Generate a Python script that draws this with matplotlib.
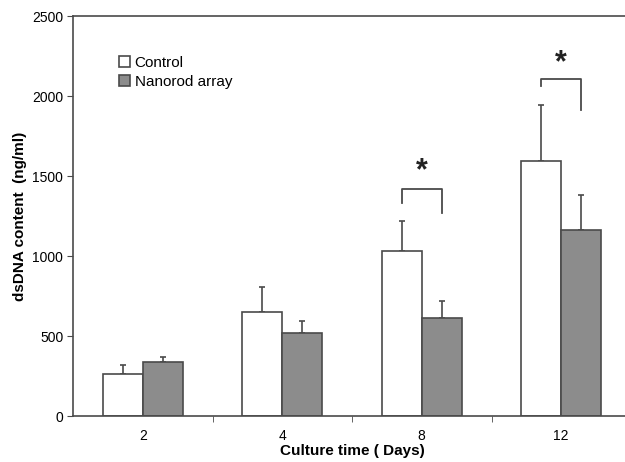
import matplotlib
matplotlib.use("Agg")
import matplotlib.pyplot as plt
import numpy as np

plt.rcParams['font.family'] = ['Liberation Sans', 'DejaVu Sans']

days = ["2", "4", "8", "12"]
control = [262, 650, 1031, 1594]
control_err = [57, 156, 188, 350]
nanorod = [337, 519, 612, 1162]
nanorod_err = [32, 75, 107, 219]

# significance brackets: (group index, top, left end, right end)
brackets = [(2, 1419, 1331, 1269), (3, 2106, 2063, 1912)]
star_y = [1530, 2205]

line_col = "#4a4a4a"

fig = plt.figure(figsize=(6.25, 4.62), dpi=100)
ax = fig.add_axes([73/625, 1 - 416/462, (631 - 73)/625, (416 - 16)/462])

x = np.arange(len(days))
w = 0.287
ax.bar(x - w/2, control, width=w, color="white", edgecolor=line_col, linewidth=1.2, label="Control", zorder=2)
ax.bar(x + w/2, nanorod, width=w, color="#8c8c8c", edgecolor=line_col, linewidth=1.2, label="Nanorod array", zorder=2)
ax.errorbar(x - w/2, control, yerr=[np.zeros(4), control_err], fmt="none", ecolor=line_col,
            elinewidth=1.2, capsize=2, capthick=1.2, zorder=1)
ax.errorbar(x + w/2, nanorod, yerr=[np.zeros(4), nanorod_err], fmt="none", ecolor=line_col,
            elinewidth=1.2, capsize=2, capthick=1.2, zorder=1)

for (g, top, lb, rb), sy in zip(brackets, star_y):
    ax.plot([g - w/2, g - w/2, g + w/2, g + w/2], [lb, top, top, rb], color=line_col, lw=1.3)
    ax.text(g, sy, "*", ha="center", va="center", fontsize=22, fontweight="bold", color="#222222")

ax.set_xlim(-0.5, 3.5)
ax.set_ylim(0, 2500)
ax.set_yticks([0, 500, 1000, 1500, 2000, 2500])
ax.set_xticks(x)
ax.set_xticklabels(days)
ax.set_xticks(np.arange(0.5, 3.5, 1), minor=True)
ax.tick_params(axis="x", which="major", length=0, pad=9, labelsize=10)
ax.tick_params(axis="x", which="minor", length=4, direction="out", color=line_col)
ax.tick_params(axis="y", length=4, direction="out", color=line_col, labelsize=10, pad=3)

for s in ["left", "top", "bottom"]:
    ax.spines[s].set_color(line_col)
    ax.spines[s].set_linewidth(1.2)
ax.spines["right"].set_visible(False)

ax.set_xlabel("Culture time ( Days)", fontsize=11, fontweight="bold", labelpad=1)
ax.set_ylabel("dsDNA content  (ng/ml)", fontsize=11, fontweight="bold", labelpad=4)

ax.legend(loc="upper left", bbox_to_anchor=(0.072, 0.915), frameon=False, fontsize=11,
          handlelength=0.7, handleheight=0.7, handletextpad=0.3, labelspacing=0.3, borderaxespad=0)

fig.savefig("out.png", dpi=100)
